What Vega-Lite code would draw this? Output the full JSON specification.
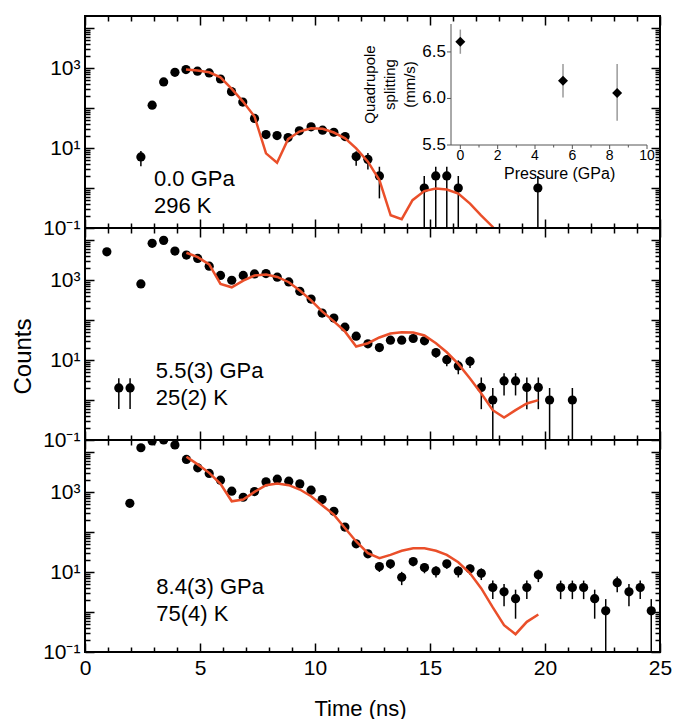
{
  "$schema": "https://vega.github.io/schema/vega-lite/v6.json",
  "padding": {"left": 10, "top": 14, "right": 2, "bottom": 0},
  "bounds": "flush",
  "spacing": 0,
  "config": {
    "font": "Liberation Sans",
    "view": {"stroke": "black", "strokeWidth": 2},
    "axis": {"labelFont": "Liberation Sans", "titleFont": "Liberation Sans", "labelColor": "black", "titleColor": "black", "titleFontWeight": "normal", "grid": false}
  },
  "datasets": {
    "top": [
      {"t": 2.43, "c": 6.0, "lo": 3.5, "hi": 8.4},
      {"t": 2.92, "c": 118, "lo": 107, "hi": 129},
      {"t": 3.42, "c": 448, "lo": 427, "hi": 469},
      {"t": 3.91, "c": 783, "lo": 755, "hi": 811},
      {"t": 4.39, "c": 917, "lo": 887, "hi": 947},
      {"t": 4.89, "c": 832, "lo": 803, "hi": 861},
      {"t": 5.40, "c": 753, "lo": 726, "hi": 780},
      {"t": 5.89, "c": 532, "lo": 509, "hi": 555},
      {"t": 6.37, "c": 257, "lo": 241, "hi": 273},
      {"t": 6.86, "c": 141, "lo": 129, "hi": 153},
      {"t": 7.37, "c": 55, "lo": 48, "hi": 62},
      {"t": 7.87, "c": 21.7, "lo": 17, "hi": 26.4},
      {"t": 8.35, "c": 20.5, "lo": 16, "hi": 25},
      {"t": 8.83, "c": 18.3, "lo": 14, "hi": 22.6},
      {"t": 9.32, "c": 26.9, "lo": 21.7, "hi": 32.1},
      {"t": 9.83, "c": 33.9, "lo": 28, "hi": 39.8},
      {"t": 10.33, "c": 27.9, "lo": 22.6, "hi": 33.2},
      {"t": 10.82, "c": 24.8, "lo": 19.8, "hi": 29.8},
      {"t": 11.31, "c": 19.3, "lo": 14.9, "hi": 23.7},
      {"t": 11.79, "c": 6.1, "lo": 3.6, "hi": 8.3},
      {"t": 12.30, "c": 5.2, "lo": 2.9, "hi": 7.5},
      {"t": 12.80, "c": 2.0, "lo": 0.55, "hi": 3.4},
      {"t": 14.75, "c": 1.0, "lo": 0.1, "hi": 2.0},
      {"t": 15.25, "c": 2.0, "lo": 0.1, "hi": 3.4},
      {"t": 15.73, "c": 2.0, "lo": 0.1, "hi": 3.4},
      {"t": 16.23, "c": 1.0, "lo": 0.1, "hi": 2.0},
      {"t": 19.69, "c": 1.0, "lo": 0.1, "hi": 2.0}
    ],
    "topfit": [
      {"t": 4.39, "c": 916}, {"t": 4.89, "c": 865}, {"t": 5.40, "c": 783}, {"t": 5.89, "c": 587},
      {"t": 6.37, "c": 305}, {"t": 6.86, "c": 147}, {"t": 7.37, "c": 61.5}, {"t": 7.87, "c": 7.36},
      {"t": 8.35, "c": 4.3}, {"t": 8.83, "c": 16.6}, {"t": 9.32, "c": 25.8}, {"t": 9.83, "c": 31.3},
      {"t": 10.33, "c": 30.2}, {"t": 10.82, "c": 24.4}, {"t": 11.31, "c": 17.5}, {"t": 11.79, "c": 9.8},
      {"t": 12.30, "c": 4.55}, {"t": 12.80, "c": 1.58}, {"t": 13.29, "c": 0.208}, {"t": 13.77, "c": 0.166},
      {"t": 14.24, "c": 0.497}, {"t": 14.75, "c": 0.836}, {"t": 15.25, "c": 0.97}, {"t": 15.73, "c": 0.916},
      {"t": 16.23, "c": 0.728}, {"t": 16.74, "c": 0.408}, {"t": 17.22, "c": 0.208}, {"t": 17.73, "c": 0.106},
      {"t": 18.22, "c": 0.04}
    ],
    "mid": [
      {"t": 0.95, "c": 5080, "lo": 5010, "hi": 5150},
      {"t": 1.47, "c": 2.0, "lo": 0.6, "hi": 3.5},
      {"t": 1.96, "c": 2.0, "lo": 0.6, "hi": 3.5},
      {"t": 2.43, "c": 798, "lo": 770, "hi": 826},
      {"t": 2.92, "c": 8260, "lo": 8170, "hi": 8350},
      {"t": 3.42, "c": 9810, "lo": 9710, "hi": 9910},
      {"t": 3.91, "c": 5300, "lo": 5230, "hi": 5370},
      {"t": 4.41, "c": 4200, "lo": 4135, "hi": 4265},
      {"t": 4.90, "c": 3470, "lo": 3410, "hi": 3530},
      {"t": 5.40, "c": 2220, "lo": 2173, "hi": 2267},
      {"t": 5.89, "c": 1300, "lo": 1264, "hi": 1336},
      {"t": 6.38, "c": 988, "lo": 957, "hi": 1019},
      {"t": 6.88, "c": 1300, "lo": 1264, "hi": 1336},
      {"t": 7.37, "c": 1420, "lo": 1382, "hi": 1458},
      {"t": 7.87, "c": 1455, "lo": 1417, "hi": 1493},
      {"t": 8.36, "c": 1175, "lo": 1141, "hi": 1209},
      {"t": 8.86, "c": 895, "lo": 865, "hi": 925},
      {"t": 9.34, "c": 523, "lo": 500, "hi": 546},
      {"t": 9.83, "c": 335, "lo": 317, "hi": 353},
      {"t": 10.31, "c": 149, "lo": 137, "hi": 161},
      {"t": 10.82, "c": 112, "lo": 101, "hi": 123},
      {"t": 11.30, "c": 66.4, "lo": 58.3, "hi": 74.5},
      {"t": 11.79, "c": 39.4, "lo": 33.1, "hi": 45.7},
      {"t": 12.30, "c": 25.4, "lo": 20.4, "hi": 30.4},
      {"t": 12.80, "c": 20.5, "lo": 16, "hi": 25},
      {"t": 13.28, "c": 31.3, "lo": 25.7, "hi": 36.9},
      {"t": 13.77, "c": 31.3, "lo": 25.7, "hi": 36.9},
      {"t": 14.27, "c": 34.5, "lo": 28.6, "hi": 40.4},
      {"t": 14.76, "c": 30.2, "lo": 24.7, "hi": 35.7},
      {"t": 15.26, "c": 15.3, "lo": 11.4, "hi": 19.2},
      {"t": 15.73, "c": 10.2, "lo": 7, "hi": 13.4},
      {"t": 16.23, "c": 7.1, "lo": 4.4, "hi": 9.8},
      {"t": 16.74, "c": 9.3, "lo": 6.3, "hi": 12.3},
      {"t": 17.23, "c": 2.06, "lo": 0.59, "hi": 3.66},
      {"t": 17.73, "c": 1.0, "lo": 0.1, "hi": 2.0},
      {"t": 18.22, "c": 3.0, "lo": 1.3, "hi": 4.7},
      {"t": 18.72, "c": 3.0, "lo": 1.3, "hi": 4.7},
      {"t": 19.21, "c": 2.06, "lo": 0.59, "hi": 3.66},
      {"t": 19.71, "c": 2.06, "lo": 0.59, "hi": 3.66},
      {"t": 20.20, "c": 1.0, "lo": 0.1, "hi": 2.0},
      {"t": 21.19, "c": 1.0, "lo": 0.1, "hi": 2.0}
    ],
    "midfit": [
      {"t": 4.41, "c": 4800}, {"t": 4.90, "c": 3740}, {"t": 5.40, "c": 2450}, {"t": 5.89, "c": 798},
      {"t": 6.38, "c": 659}, {"t": 6.88, "c": 970}, {"t": 7.37, "c": 1297}, {"t": 7.87, "c": 1374},
      {"t": 8.36, "c": 1197}, {"t": 8.86, "c": 881}, {"t": 9.34, "c": 545}, {"t": 9.83, "c": 310},
      {"t": 10.31, "c": 164}, {"t": 10.82, "c": 92.3}, {"t": 11.30, "c": 52}, {"t": 11.79, "c": 21.7},
      {"t": 12.30, "c": 26.3}, {"t": 12.80, "c": 36.6}, {"t": 13.28, "c": 46.0}, {"t": 13.77, "c": 49.7},
      {"t": 14.27, "c": 48.8}, {"t": 14.76, "c": 41.0}, {"t": 15.26, "c": 26.3}, {"t": 15.73, "c": 15.6},
      {"t": 16.23, "c": 7.98}, {"t": 16.74, "c": 3.47}, {"t": 17.23, "c": 1.46}, {"t": 17.73, "c": 0.557},
      {"t": 18.22, "c": 0.363}, {"t": 18.72, "c": 0.557}, {"t": 19.21, "c": 0.817}, {"t": 19.71, "c": 0.993}
    ],
    "bot": [
      {"t": 1.95, "c": 523, "lo": 500, "hi": 546},
      {"t": 2.43, "c": 12800, "lo": 12690, "hi": 12910},
      {"t": 2.92, "c": 18900, "lo": 18760, "hi": 19040},
      {"t": 3.42, "c": 20000, "lo": 19860, "hi": 20000},
      {"t": 3.91, "c": 15000, "lo": 14880, "hi": 15120},
      {"t": 4.41, "c": 6550, "lo": 6470, "hi": 6630},
      {"t": 4.90, "c": 4040, "lo": 3976, "hi": 4104},
      {"t": 5.40, "c": 2920, "lo": 2866, "hi": 2974},
      {"t": 5.89, "c": 1980, "lo": 1935, "hi": 2025},
      {"t": 6.38, "c": 1047, "lo": 1015, "hi": 1079},
      {"t": 6.88, "c": 740, "lo": 713, "hi": 767},
      {"t": 7.37, "c": 1030, "lo": 998, "hi": 1062},
      {"t": 7.87, "c": 1795, "lo": 1753, "hi": 1837},
      {"t": 8.36, "c": 2100, "lo": 2054, "hi": 2146},
      {"t": 8.86, "c": 1866, "lo": 1823, "hi": 1909},
      {"t": 9.34, "c": 1600, "lo": 1560, "hi": 1640},
      {"t": 9.83, "c": 1110, "lo": 1077, "hi": 1143},
      {"t": 10.31, "c": 647, "lo": 622, "hi": 672},
      {"t": 10.82, "c": 330, "lo": 312, "hi": 348},
      {"t": 11.30, "c": 133, "lo": 121.5, "hi": 144.5},
      {"t": 11.79, "c": 50.8, "lo": 43.7, "hi": 57.9},
      {"t": 12.30, "c": 28.5, "lo": 23.2, "hi": 33.8},
      {"t": 12.80, "c": 13.7, "lo": 10, "hi": 17.4},
      {"t": 13.28, "c": 16.0, "lo": 12, "hi": 20},
      {"t": 13.77, "c": 7.4, "lo": 4.7, "hi": 10.1},
      {"t": 14.27, "c": 18.2, "lo": 13.9, "hi": 22.5},
      {"t": 14.76, "c": 12.9, "lo": 9.3, "hi": 16.5},
      {"t": 15.26, "c": 10.6, "lo": 7.3, "hi": 13.9},
      {"t": 15.73, "c": 16.0, "lo": 12, "hi": 20},
      {"t": 16.23, "c": 10.6, "lo": 7.3, "hi": 13.9},
      {"t": 16.74, "c": 12.0, "lo": 8.5, "hi": 15.5},
      {"t": 17.23, "c": 9.3, "lo": 6.3, "hi": 12.3},
      {"t": 17.73, "c": 4.1, "lo": 2.1, "hi": 6.1},
      {"t": 18.22, "c": 3.2, "lo": 1.4, "hi": 5.0},
      {"t": 18.72, "c": 2.15, "lo": 0.68, "hi": 3.62},
      {"t": 19.21, "c": 4.1, "lo": 2.1, "hi": 6.1},
      {"t": 19.71, "c": 8.5, "lo": 5.6, "hi": 11.4},
      {"t": 20.68, "c": 4.1, "lo": 2.1, "hi": 6.1},
      {"t": 21.19, "c": 4.1, "lo": 2.1, "hi": 6.1},
      {"t": 21.68, "c": 4.1, "lo": 2.1, "hi": 6.1},
      {"t": 22.16, "c": 2.15, "lo": 0.68, "hi": 3.62},
      {"t": 22.64, "c": 1.07, "lo": 0.1, "hi": 2.1},
      {"t": 23.14, "c": 5.4, "lo": 3.1, "hi": 7.7},
      {"t": 23.65, "c": 3.2, "lo": 1.4, "hi": 5.0},
      {"t": 24.14, "c": 4.1, "lo": 2.1, "hi": 6.1},
      {"t": 24.62, "c": 1.07, "lo": 0.1, "hi": 2.1}
    ],
    "botfit": [
      {"t": 4.41, "c": 7620}, {"t": 4.90, "c": 4910}, {"t": 5.40, "c": 3020}, {"t": 5.89, "c": 1600},
      {"t": 6.38, "c": 587}, {"t": 6.88, "c": 647}, {"t": 7.37, "c": 1007}, {"t": 7.87, "c": 1483},
      {"t": 8.36, "c": 1637}, {"t": 8.86, "c": 1483}, {"t": 9.34, "c": 1156}, {"t": 9.83, "c": 783},
      {"t": 10.31, "c": 466}, {"t": 10.82, "c": 272}, {"t": 11.30, "c": 126}, {"t": 11.79, "c": 58.1},
      {"t": 12.30, "c": 29.5}, {"t": 12.80, "c": 22.1}, {"t": 13.28, "c": 26.9}, {"t": 13.77, "c": 33.9},
      {"t": 14.27, "c": 39.4}, {"t": 14.76, "c": 39.4}, {"t": 15.26, "c": 33.9}, {"t": 15.73, "c": 26.9},
      {"t": 16.23, "c": 17.5}, {"t": 16.74, "c": 9.27}, {"t": 17.23, "c": 3.89}, {"t": 17.73, "c": 1.30},
      {"t": 18.22, "c": 0.469}, {"t": 18.72, "c": 0.279}, {"t": 19.21, "c": 0.568}, {"t": 19.71, "c": 0.865}
    ],
    "inset": [
      {"p": 0, "q": 6.61, "lo": 6.48, "hi": 6.74},
      {"p": 5.5, "q": 6.19, "lo": 6.01, "hi": 6.37},
      {"p": 8.4, "q": 6.06, "lo": 5.76, "hi": 6.37}
    ],
    "insetMajorX": [
      {"p": 0, "l": "0"}, {"p": 2, "l": "2"}, {"p": 4, "l": "4"}, {"p": 6, "l": "6"}, {"p": 8, "l": "8"}, {"p": 10, "l": "10"}
    ],
    "insetMinorX": [{"p": 1}, {"p": 3}, {"p": 5}, {"p": 7}, {"p": 9}],
    "insetY": [{"q": 5.5, "l": "5.5"}, {"q": 6.0, "l": "6.0"}, {"q": 6.5, "l": "6.5"}]
  },
  "vconcat": [
    {
      "width": 575, "height": 212,
      "layer": [
        {
          "layer": [
            {"data": {"name": "top"}, "mark": {"type": "rule", "color": "black", "strokeWidth": 1.5},
             "encoding": {
               "x": {"field": "t", "type": "quantitative", "scale": {"domain": [0, 25], "nice": false, "zero": false}, "axis": null},
               "y": {"field": "lo", "type": "quantitative", "scale": {"type": "log", "domain": [0.1, 20000], "nice": false}, "axis": null},
               "y2": {"field": "hi"}}},
            {"data": {"name": "top"}, "mark": {"type": "circle", "size": 85, "color": "black", "opacity": 1, "clip": true},
             "encoding": {
               "x": {"field": "t", "type": "quantitative", "scale": {"domain": [0, 25], "nice": false, "zero": false},
                     "axis": {"orient": "bottom", "values": [0,1,2,3,4,5,6,7,8,9,10,11,12,13,14,15,16,17,18,19,20,21,22,23,24,25], "labels": false, "domain": false, "tickColor": "black", "tickWidth": 1.5, "tickSize": {"condition": {"test": "datum.value % 5 == 0", "value": -9}, "value": -5}, "title": null}},
               "y": {"field": "c", "type": "quantitative", "scale": {"type": "log", "domain": [0.1, 20000], "nice": false},
                     "axis": {"orient": "left", "values": [0.1,0.2,0.3,0.4,0.5,0.6,0.7,0.8,0.9,1,2,3,4,5,6,7,8,9,10,20,30,40,50,60,70,80,90,100,200,300,400,500,600,700,800,900,1000,2000,3000,4000,5000,6000,7000,8000,9000,10000], "labelExpr": "datum.value == 1000 ? '10³' : (datum.value == 10 ? '10¹' : (datum.value == 0.1 ? '10⁻¹' : ''))", "labelOverlap": false, "labelFlush": false, "labelFontSize": 21, "labelPadding": 14, "domain": false, "tickColor": "black", "tickWidth": 1.5, "tickSize": {"condition": {"test": "abs(log(datum.value)/LN10 - round(log(datum.value)/LN10)) < 0.001", "value": -9}, "value": -5}, "title": null}}}},
            {"data": {"name": "topfit"}, "mark": {"type": "line", "color": "#EA4F2A", "strokeWidth": 2.5, "clip": true},
             "encoding": {
               "x": {"field": "t", "type": "quantitative", "scale": {"domain": [0, 25], "nice": false, "zero": false},
                     "axis": {"orient": "top", "values": [0,1,2,3,4,5,6,7,8,9,10,11,12,13,14,15,16,17,18,19,20,21,22,23,24,25], "labels": false, "domain": false, "tickColor": "black", "tickWidth": 1.5, "tickSize": {"condition": {"test": "datum.value % 5 == 0", "value": -9}, "value": -5}, "title": null}},
               "y": {"field": "c", "type": "quantitative", "scale": {"type": "log", "domain": [0.1, 20000], "nice": false},
                     "axis": {"orient": "right", "values": [0.1,0.2,0.3,0.4,0.5,0.6,0.7,0.8,0.9,1,2,3,4,5,6,7,8,9,10,20,30,40,50,60,70,80,90,100,200,300,400,500,600,700,800,900,1000,2000,3000,4000,5000,6000,7000,8000,9000,10000], "labels": false, "domain": false, "tickColor": "black", "tickWidth": 1.5, "tickSize": {"condition": {"test": "abs(log(datum.value)/LN10 - round(log(datum.value)/LN10)) < 0.001", "value": -9}, "value": -5}, "title": null}}}},
            {"data": {"values": [{}]}, "mark": {"type": "text", "text": ["0.0 GPa", "296 K"], "align": "left", "baseline": "alphabetic", "fontSize": 22, "lineHeight": 27, "color": "black"},
             "encoding": {
               "x": {"datum": 3.0, "type": "quantitative", "scale": {"domain": [0, 25], "nice": false, "zero": false}, "axis": null},
               "y": {"datum": 1.1, "type": "quantitative", "scale": {"type": "log", "domain": [0.1, 20000], "nice": false}, "axis": null}}}
          ],
          "resolve": {"axis": {"x": "independent", "y": "independent"}}
        },
        {
          "layer": [
            {"data": {"name": "inset"}, "mark": {"type": "rule", "color": "#9a9a9a", "strokeWidth": 1.5},
             "encoding": {
               "x": {"field": "p", "type": "quantitative", "scale": {"domain": [-0.5, 10], "range": [366, 562], "nice": false, "zero": false}, "axis": null},
               "y": {"field": "lo", "type": "quantitative", "scale": {"domain": [5.5, 6.8], "range": [129, 8], "nice": false, "zero": false}, "axis": null},
               "y2": {"field": "hi"}}},
            {"data": {"name": "inset"}, "mark": {"type": "point", "shape": "diamond", "filled": true, "color": "black", "size": 100, "opacity": 1},
             "encoding": {
               "x": {"field": "p", "type": "quantitative", "scale": {"domain": [-0.5, 10], "range": [366, 562], "nice": false, "zero": false}, "axis": null},
               "y": {"field": "q", "type": "quantitative", "scale": {"domain": [5.5, 6.8], "range": [129, 8], "nice": false, "zero": false}, "axis": null}}},
            {"data": {"values": [{}]}, "mark": {"type": "rule", "color": "#555", "strokeWidth": 1},
             "encoding": {
               "x": {"datum": -0.5, "type": "quantitative", "scale": {"domain": [-0.5, 10], "range": [366, 562], "nice": false, "zero": false}, "axis": null},
               "x2": {"datum": 10},
               "y": {"datum": 5.5, "type": "quantitative", "scale": {"domain": [5.5, 6.8], "range": [129, 8], "nice": false, "zero": false}, "axis": null}}},
            {"data": {"values": [{}]}, "mark": {"type": "rule", "color": "#555", "strokeWidth": 1},
             "encoding": {
               "x": {"datum": -0.5, "type": "quantitative", "scale": {"domain": [-0.5, 10], "range": [366, 562], "nice": false, "zero": false}, "axis": null},
               "y": {"datum": 5.5, "type": "quantitative", "scale": {"domain": [5.5, 6.8], "range": [129, 8], "nice": false, "zero": false}, "axis": null},
               "y2": {"datum": 6.8}}},
            {"data": {"name": "insetMajorX"}, "mark": {"type": "rule", "color": "#555", "strokeWidth": 1, "y2Offset": 4},
             "encoding": {
               "x": {"field": "p", "type": "quantitative", "scale": {"domain": [-0.5, 10], "range": [366, 562], "nice": false, "zero": false}, "axis": null},
               "y": {"datum": 5.5, "type": "quantitative", "scale": {"domain": [5.5, 6.8], "range": [129, 8], "nice": false, "zero": false}, "axis": null},
               "y2": {"datum": 5.5}}},
            {"data": {"name": "insetMinorX"}, "mark": {"type": "rule", "color": "#555", "strokeWidth": 1, "y2Offset": 2.5},
             "encoding": {
               "x": {"field": "p", "type": "quantitative", "scale": {"domain": [-0.5, 10], "range": [366, 562], "nice": false, "zero": false}, "axis": null},
               "y": {"datum": 5.5, "type": "quantitative", "scale": {"domain": [5.5, 6.8], "range": [129, 8], "nice": false, "zero": false}, "axis": null},
               "y2": {"datum": 5.5}}},
            {"data": {"name": "insetMajorX"}, "mark": {"type": "text", "align": "center", "baseline": "top", "dy": 4, "fontSize": 14, "color": "black"},
             "encoding": {
               "x": {"field": "p", "type": "quantitative", "scale": {"domain": [-0.5, 10], "range": [366, 562], "nice": false, "zero": false}, "axis": null},
               "y": {"datum": 5.5, "type": "quantitative", "scale": {"domain": [5.5, 6.8], "range": [129, 8], "nice": false, "zero": false}, "axis": null},
               "text": {"field": "l"}}},
            {"data": {"name": "insetY"}, "mark": {"type": "rule", "color": "#555", "strokeWidth": 1, "x2Offset": -4},
             "encoding": {
               "x": {"datum": -0.5, "type": "quantitative", "scale": {"domain": [-0.5, 10], "range": [366, 562], "nice": false, "zero": false}, "axis": null},
               "x2": {"datum": -0.5},
               "y": {"field": "q", "type": "quantitative", "scale": {"domain": [5.5, 6.8], "range": [129, 8], "nice": false, "zero": false}, "axis": null}}},
            {"data": {"name": "insetY"}, "mark": {"type": "text", "align": "right", "baseline": "middle", "dx": -5, "fontSize": 17, "color": "black"},
             "encoding": {
               "x": {"datum": -0.5, "type": "quantitative", "scale": {"domain": [-0.5, 10], "range": [366, 562], "nice": false, "zero": false}, "axis": null},
               "y": {"field": "q", "type": "quantitative", "scale": {"domain": [5.5, 6.8], "range": [129, 8], "nice": false, "zero": false}, "axis": null},
               "text": {"field": "l"}}},
            {"data": {"values": [{}]}, "mark": {"type": "text", "text": ["Quadrupole", "splitting", "(mm/s)"], "angle": 270, "align": "center", "baseline": "middle", "fontSize": 15, "lineHeight": 20, "color": "black"},
             "encoding": {
               "x": {"datum": -4.85, "type": "quantitative", "scale": {"domain": [-0.5, 10], "range": [366, 562], "nice": false, "zero": false}, "axis": null},
               "y": {"datum": 6.15, "type": "quantitative", "scale": {"domain": [5.5, 6.8], "range": [129, 8], "nice": false, "zero": false}, "axis": null}}},
            {"data": {"values": [{}]}, "mark": {"type": "text", "text": "Pressure (GPa)", "align": "center", "baseline": "alphabetic", "fontSize": 16, "color": "black"},
             "encoding": {
               "x": {"datum": 5.32, "type": "quantitative", "scale": {"domain": [-0.5, 10], "range": [366, 562], "nice": false, "zero": false}, "axis": null},
               "y": {"datum": 5.14, "type": "quantitative", "scale": {"domain": [5.5, 6.8], "range": [129, 8], "nice": false, "zero": false}, "axis": null}}}
          ]
        }
      ],
      "resolve": {"scale": {"x": "independent", "y": "independent"}, "axis": {"x": "independent", "y": "independent"}}
    },
    {
      "width": 575, "height": 212,
      "layer": [
        {"data": {"name": "mid"}, "mark": {"type": "rule", "color": "black", "strokeWidth": 1.5},
         "encoding": {
           "x": {"field": "t", "type": "quantitative", "scale": {"domain": [0, 25], "nice": false, "zero": false}, "axis": null},
           "y": {"field": "lo", "type": "quantitative", "scale": {"type": "log", "domain": [0.1, 20000], "nice": false}, "axis": null},
           "y2": {"field": "hi"}}},
        {"data": {"name": "mid"}, "mark": {"type": "circle", "size": 85, "color": "black", "opacity": 1, "clip": true},
         "encoding": {
           "x": {"field": "t", "type": "quantitative", "scale": {"domain": [0, 25], "nice": false, "zero": false},
                 "axis": {"orient": "bottom", "values": [0,1,2,3,4,5,6,7,8,9,10,11,12,13,14,15,16,17,18,19,20,21,22,23,24,25], "labels": false, "domain": false, "tickColor": "black", "tickWidth": 1.5, "tickSize": {"condition": {"test": "datum.value % 5 == 0", "value": -9}, "value": -5}, "title": null}},
           "y": {"field": "c", "type": "quantitative", "scale": {"type": "log", "domain": [0.1, 20000], "nice": false},
                 "axis": {"orient": "left", "values": [0.1,0.2,0.3,0.4,0.5,0.6,0.7,0.8,0.9,1,2,3,4,5,6,7,8,9,10,20,30,40,50,60,70,80,90,100,200,300,400,500,600,700,800,900,1000,2000,3000,4000,5000,6000,7000,8000,9000,10000], "labelExpr": "datum.value == 1000 ? '10³' : (datum.value == 10 ? '10¹' : (datum.value == 0.1 ? '10⁻¹' : ''))", "labelOverlap": false, "labelFlush": false, "labelFontSize": 21, "labelPadding": 14, "domain": false, "tickColor": "black", "tickWidth": 1.5, "tickSize": {"condition": {"test": "abs(log(datum.value)/LN10 - round(log(datum.value)/LN10)) < 0.001", "value": -9}, "value": -5}, "title": "Counts", "titleFontSize": 24, "titleBaseline": "alphabetic", "titleX": -55, "titleY": 128}}}},
        {"data": {"name": "midfit"}, "mark": {"type": "line", "color": "#EA4F2A", "strokeWidth": 2.5, "clip": true},
         "encoding": {
           "x": {"field": "t", "type": "quantitative", "scale": {"domain": [0, 25], "nice": false, "zero": false},
                 "axis": {"orient": "top", "values": [0,1,2,3,4,5,6,7,8,9,10,11,12,13,14,15,16,17,18,19,20,21,22,23,24,25], "labels": false, "domain": false, "tickColor": "black", "tickWidth": 1.5, "tickSize": {"condition": {"test": "datum.value % 5 == 0", "value": -9}, "value": -5}, "title": null}},
           "y": {"field": "c", "type": "quantitative", "scale": {"type": "log", "domain": [0.1, 20000], "nice": false},
                 "axis": {"orient": "right", "values": [0.1,0.2,0.3,0.4,0.5,0.6,0.7,0.8,0.9,1,2,3,4,5,6,7,8,9,10,20,30,40,50,60,70,80,90,100,200,300,400,500,600,700,800,900,1000,2000,3000,4000,5000,6000,7000,8000,9000,10000], "labels": false, "domain": false, "tickColor": "black", "tickWidth": 1.5, "tickSize": {"condition": {"test": "abs(log(datum.value)/LN10 - round(log(datum.value)/LN10)) < 0.001", "value": -9}, "value": -5}, "title": null}}}},
        {"data": {"values": [{}]}, "mark": {"type": "text", "text": ["5.5(3) GPa", "25(2) K"], "align": "left", "baseline": "alphabetic", "fontSize": 22, "lineHeight": 27, "color": "black"},
         "encoding": {
           "x": {"datum": 3.08, "type": "quantitative", "scale": {"domain": [0, 25], "nice": false, "zero": false}, "axis": null},
           "y": {"datum": 3.6, "type": "quantitative", "scale": {"type": "log", "domain": [0.1, 20000], "nice": false}, "axis": null}}}
      ],
      "resolve": {"axis": {"x": "independent", "y": "independent"}}
    },
    {
      "width": 575, "height": 212,
      "layer": [
        {"data": {"name": "bot"}, "mark": {"type": "rule", "color": "black", "strokeWidth": 1.5},
         "encoding": {
           "x": {"field": "t", "type": "quantitative", "scale": {"domain": [0, 25], "nice": false, "zero": false}, "axis": null},
           "y": {"field": "lo", "type": "quantitative", "scale": {"type": "log", "domain": [0.1, 20000], "nice": false}, "axis": null},
           "y2": {"field": "hi"}}},
        {"data": {"name": "bot"}, "mark": {"type": "circle", "size": 85, "color": "black", "opacity": 1, "clip": true},
         "encoding": {
           "x": {"field": "t", "type": "quantitative", "scale": {"domain": [0, 25], "nice": false, "zero": false},
                 "axis": {"orient": "bottom", "values": [0,1,2,3,4,5,6,7,8,9,10,11,12,13,14,15,16,17,18,19,20,21,22,23,24,25], "labelExpr": "datum.value % 5 == 0 ? datum.label : ''", "labelFontSize": 21, "labelPadding": 14, "labelFlush": false, "labelOverlap": false, "domain": false, "tickColor": "black", "tickWidth": 1.5, "tickSize": {"condition": {"test": "datum.value % 5 == 0", "value": -9}, "value": -5}, "title": "Time (ns)", "titleFontSize": 22, "titleBaseline": "alphabetic", "titleX": 275, "titleY": 63}},
           "y": {"field": "c", "type": "quantitative", "scale": {"type": "log", "domain": [0.1, 20000], "nice": false},
                 "axis": {"orient": "left", "values": [0.1,0.2,0.3,0.4,0.5,0.6,0.7,0.8,0.9,1,2,3,4,5,6,7,8,9,10,20,30,40,50,60,70,80,90,100,200,300,400,500,600,700,800,900,1000,2000,3000,4000,5000,6000,7000,8000,9000,10000], "labelExpr": "datum.value == 1000 ? '10³' : (datum.value == 10 ? '10¹' : (datum.value == 0.1 ? '10⁻¹' : ''))", "labelOverlap": false, "labelFlush": false, "labelFontSize": 21, "labelPadding": 14, "domain": false, "tickColor": "black", "tickWidth": 1.5, "tickSize": {"condition": {"test": "abs(log(datum.value)/LN10 - round(log(datum.value)/LN10)) < 0.001", "value": -9}, "value": -5}, "title": null}}}},
        {"data": {"name": "botfit"}, "mark": {"type": "line", "color": "#EA4F2A", "strokeWidth": 2.5, "clip": true},
         "encoding": {
           "x": {"field": "t", "type": "quantitative", "scale": {"domain": [0, 25], "nice": false, "zero": false},
                 "axis": {"orient": "top", "values": [0,1,2,3,4,5,6,7,8,9,10,11,12,13,14,15,16,17,18,19,20,21,22,23,24,25], "labels": false, "domain": false, "tickColor": "black", "tickWidth": 1.5, "tickSize": {"condition": {"test": "datum.value % 5 == 0", "value": -9}, "value": -5}, "title": null}},
           "y": {"field": "c", "type": "quantitative", "scale": {"type": "log", "domain": [0.1, 20000], "nice": false},
                 "axis": {"orient": "right", "values": [0.1,0.2,0.3,0.4,0.5,0.6,0.7,0.8,0.9,1,2,3,4,5,6,7,8,9,10,20,30,40,50,60,70,80,90,100,200,300,400,500,600,700,800,900,1000,2000,3000,4000,5000,6000,7000,8000,9000,10000], "labels": false, "domain": false, "tickColor": "black", "tickWidth": 1.5, "tickSize": {"condition": {"test": "abs(log(datum.value)/LN10 - round(log(datum.value)/LN10)) < 0.001", "value": -9}, "value": -5}, "title": null}}}},
        {"data": {"values": [{}]}, "mark": {"type": "text", "text": ["8.4(3) GPa", "75(4) K"], "align": "left", "baseline": "alphabetic", "fontSize": 22, "lineHeight": 27, "color": "black"},
         "encoding": {
           "x": {"datum": 3.1, "type": "quantitative", "scale": {"domain": [0, 25], "nice": false, "zero": false}, "axis": null},
           "y": {"datum": 2.87, "type": "quantitative", "scale": {"type": "log", "domain": [0.1, 20000], "nice": false}, "axis": null}}}
      ],
      "resolve": {"axis": {"x": "independent", "y": "independent"}}
    }
  ]
}
